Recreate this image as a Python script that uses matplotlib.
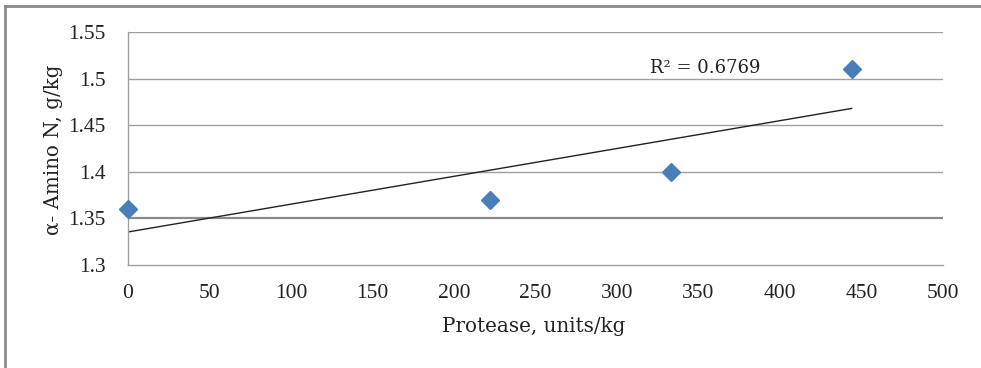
import numpy as np
import matplotlib
matplotlib.use("Agg")
import matplotlib.pyplot as plt
from matplotlib.lines import Line2D

# data
protease = [0, 222, 333, 444]
amino_n = [1.36, 1.37, 1.40, 1.51]
x_ticks = [0, 50, 100, 150, 200, 250, 300, 350, 400, 450, 500]
y_ticks = [1.3, 1.35, 1.4, 1.45, 1.5, 1.55]
y_tick_labels = ["1.3", "1.35", "1.4", "1.45", "1.5", "1.55"]

plt.rcParams['font.family'] = ['Liberation Serif', 'DejaVu Serif']
wide_serif = ['DejaVu Serif']

fig = plt.figure(figsize=(9.81, 3.68), dpi=100)
ax = fig.add_axes([128 / 981, 1 - 265 / 368, 815 / 981, 233 / 368])

# linear trendline like excel
slope, intercept = np.polyfit(protease, amino_n, 1)
pred = np.polyval([slope, intercept], protease)
ss_res = np.sum((np.array(amino_n) - pred) ** 2)
ss_tot = np.sum((np.array(amino_n) - np.mean(amino_n)) ** 2)
r2 = 1 - ss_res / ss_tot

for y in y_ticks[1:]:
    lw, col = (1.6, '#8a8a8a') if y == 1.35 else (1.0, '#a0a0a0')
    ax.axhline(y, color=col, lw=lw, zorder=1)

xs = np.array([min(protease), max(protease)])
ax.plot(xs, slope * xs + intercept, color='#222222', lw=1.0, zorder=2)
ax.plot(protease, amino_n, linestyle='none', marker='D', markersize=9.5,
        color='#4a7ebb', markeredgecolor='#4a7ebb', zorder=3, clip_on=False)

ax.text(320, 1.511, f"R\u00b2 = {r2:.4f}", fontsize=13, va='center', ha='left',
        color='#222222', family=wide_serif)

ax.set_xlim(0, 500)
ax.set_ylim(1.3, 1.55)
ax.set_xticks(x_ticks)
ax.set_yticks(y_ticks)
ax.set_yticklabels(y_tick_labels)
ax.tick_params(length=0, labelsize=15.5, colors='#222222')
ax.tick_params(axis='x', pad=14)
ax.tick_params(axis='y', pad=16)

for side in ['top', 'right']:
    ax.spines[side].set_visible(False)
for side in ['left', 'bottom']:
    ax.spines[side].set_color('#a0a0a0')
    ax.spines[side].set_linewidth(1.0)

ax.set_xlabel("Protease, units/kg", fontsize=14.3, color='#222222',
              family=wide_serif, va='center')
ax.xaxis.set_label_coords((534 - 128) / 815, (265 - 327) / 233)
ax.set_ylabel("\u03b1- Amino N, g/kg", fontsize=14.3, color='#222222',
              family=wide_serif, va='center')
ax.yaxis.set_label_coords((54 - 128) / 815, (265 - 150) / 233)

# outer chart frame (only top and left visible in the crop)
fig.add_artist(Line2D([5 / 981, 1], [1 - 6 / 368, 1 - 6 / 368], color='#8a8a8a', lw=2,
                      transform=fig.transFigure))
fig.add_artist(Line2D([5 / 981, 5 / 981], [0, 1 - 6 / 368], color='#8a8a8a', lw=2,
                      transform=fig.transFigure))

fig.savefig("out.png", dpi=100)
